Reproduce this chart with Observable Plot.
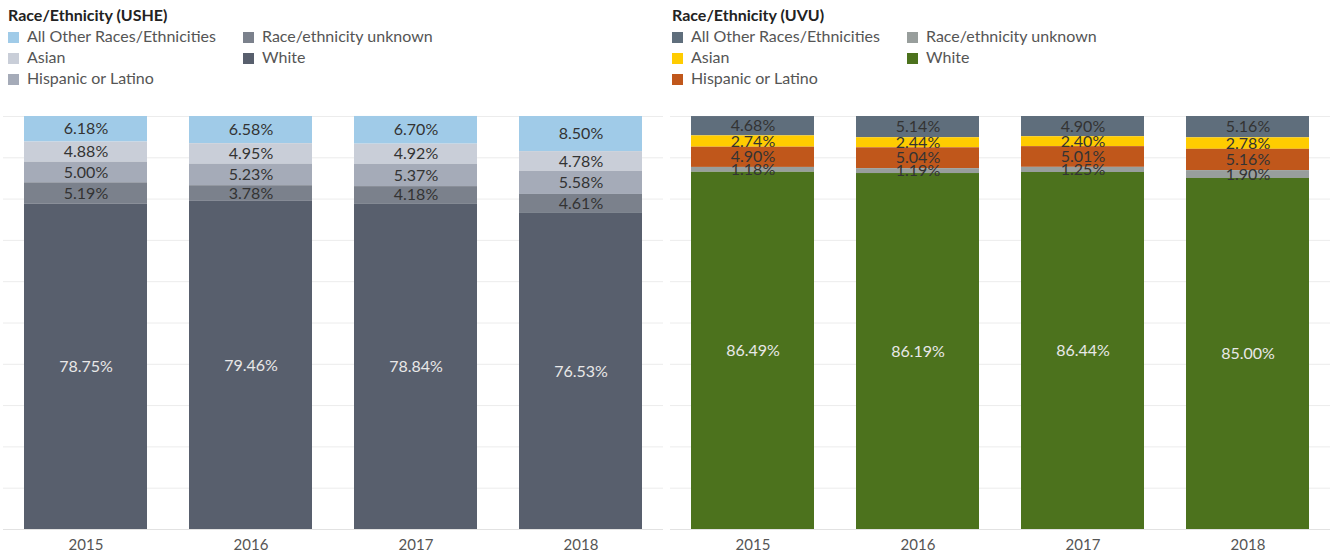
<!DOCTYPE html>
<html>
<head>
<meta charset="utf-8">
<script src="https://cdn.jsdelivr.net/npm/d3@7"></script>
<script src="https://cdn.jsdelivr.net/npm/@observablehq/plot@0.6"></script>
<style>
  html, body { margin: 0; padding: 0; background: #fff; }
  body { width: 1330px; height: 554px; position: relative; overflow: hidden; font-family: Lato, "Open Sans", sans-serif; }
  .legend { position: absolute; top: 5px; color: #333; }
  .legend .title { font-weight: bold; font-size: 16px; height: 20px; line-height: 20px; color: #222; }
  .legend .items { position: relative; }
  .legend .item { position: absolute; font-size: 16px; line-height: 21px; white-space: nowrap; color: #555; }
  .legend .sw { display: inline-block; width: 11px; height: 11px; margin-right: 8px; vertical-align: -1px; }
  .panel { position: absolute; top: 105px; }
</style>
</head>
<body>
<script>
const years = ["2015", "2016", "2017", "2018"];
const categories = ["All Other Races/Ethnicities", "Asian", "Hispanic or Latino", "Race/ethnicity unknown", "White"];
const stackOrder = ["White", "Race/ethnicity unknown", "Hispanic or Latino", "Asian", "All Other Races/Ethnicities"];

// values per category, per year (percent)
const usheAllOther = [6.18, 6.58, 6.70, 8.50];
const usheAsian    = [4.88, 4.95, 4.92, 4.78];
const usheHispanic = [5.00, 5.23, 5.37, 5.58];
const usheUnknown  = [5.19, 3.78, 4.18, 4.61];
const usheWhite    = [78.75, 79.46, 78.84, 76.53];

const uvuAllOther = [4.68, 5.14, 4.90, 5.16];
const uvuAsian    = [2.74, 2.44, 2.40, 2.78];
const uvuHispanic = [4.90, 5.04, 5.01, 5.16];
const uvuUnknown  = [1.18, 1.19, 1.25, 1.90];
const uvuWhite    = [86.49, 86.19, 86.44, 85.00];

const usheColors = ["#a0cbe8", "#c9ced8", "#a5abb8", "#7b818c", "#585f6d"];
const uvuColors  = ["#5f6e7c", "#ffcc00", "#c0571b", "#989e9c", "#4c721d"];

function buildRows(series) {
  const rows = [];
  categories.forEach((c, ci) => {
    years.forEach((y, yi) => rows.push({year: y, cat: c, value: series[ci][yi]}));
  });
  return rows;
}
const usheData = buildRows([usheAllOther, usheAsian, usheHispanic, usheUnknown, usheWhite]);
const uvuData  = buildRows([uvuAllOther, uvuAsian, uvuHispanic, uvuUnknown, uvuWhite]);

function legend(title, colors, left) {
  const d = document.createElement("div");
  d.className = "legend";
  d.style.left = left + "px";
  let html = `<div class="title">${title}</div><div class="items">`;
  categories.forEach((c, i) => {
    const col = i < 3 ? 0 : 1;
    const row = i < 3 ? i : i - 3;
    html += `<div class="item" style="left:${col * 235}px;top:${row * 21}px"><span class="sw" style="background:${colors[i]}"></span>${c}</div>`;
  });
  html += `</div>`;
  d.innerHTML = html;
  document.body.appendChild(d);
}

function chart(data, colors, width, mLeft, mRight) {
  return Plot.plot({
    width, height: 449,
    marginTop: 11, marginBottom: 25, marginLeft: mLeft, marginRight: mRight,
    style: {fontFamily: "Lato, 'Open Sans', sans-serif", fontSize: "15px", background: "transparent"},
    x: {domain: years, paddingInner: 0.255, paddingOuter: 0.1275, label: null, tickSize: 0, tickPadding: 10},
    y: {domain: [0, 100], axis: null},
    color: {domain: categories, range: colors},
    marks: [
      Plot.gridY(d3.range(0, 101, 10), {stroke: "#ececec", strokeOpacity: 1}),
      Plot.ruleY([0], {stroke: "#e2e2e2"}),
      Plot.barY(data, {x: "year", y: "value", fill: "cat", z: "cat", order: stackOrder}),
      Plot.text(data, Plot.stackY({
        x: "year", y: "value", z: "cat", order: stackOrder,
        text: d => d.value.toFixed(2) + "%",
        fill: d => d.cat === "White" ? "#e8e8e8" : "#333",
        fontSize: 16
      })),
      Plot.axisX({tickSize: 0, tickPadding: 10, fill: "#555", fontSize: 15})
    ]
  });
}

legend("Race/Ethnicity (USHE)", usheColors, 8);
legend("Race/Ethnicity (UVU)", uvuColors, 672);

const p1 = document.createElement("div");
p1.className = "panel"; p1.style.left = "0px";
p1.appendChild(chart(usheData, usheColors, 666, 3, 3));
document.body.appendChild(p1);

const p2 = document.createElement("div");
p2.className = "panel"; p2.style.left = "667px";
p2.appendChild(chart(uvuData, uvuColors, 663, 3, 0));
document.body.appendChild(p2);
</script>
</body>
</html>
